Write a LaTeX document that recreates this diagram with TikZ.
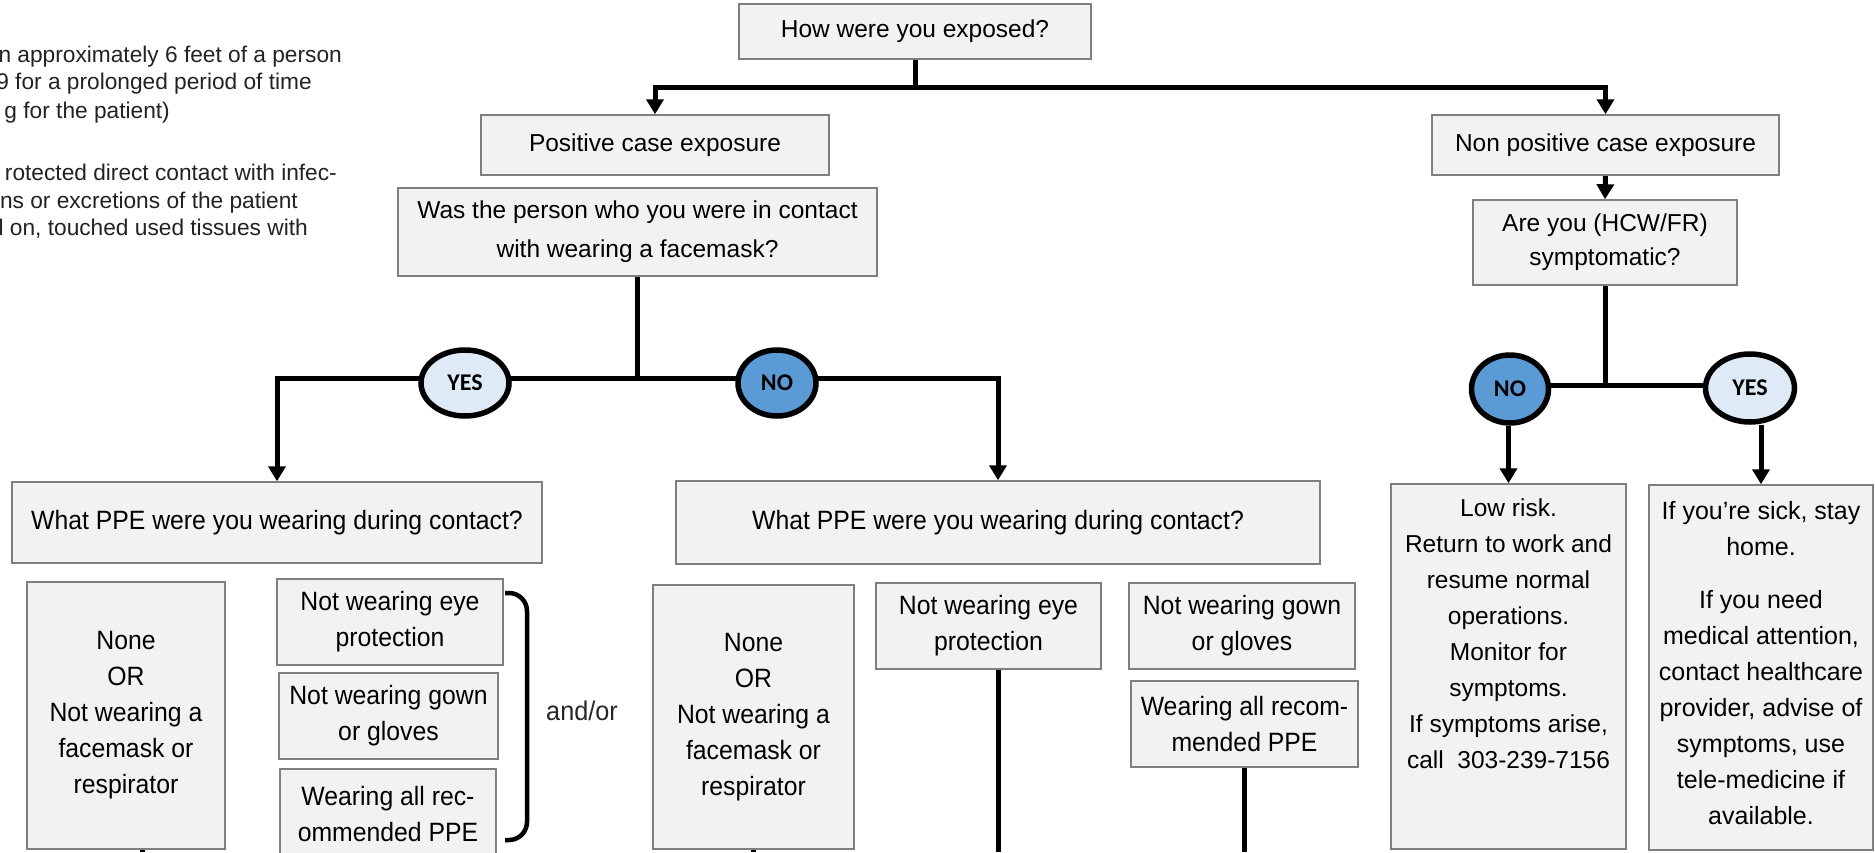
\documentclass[tikz,border=0pt]{standalone}
\usepackage{fontspec}
\setmainfont{Liberation Sans}
\newfontfamily\condfont{Liberation Sans}[FakeStretch=0.935]
\newfontfamily\labfont{Carlito}
\usetikzlibrary{arrows.meta,shapes.geometric,backgrounds}
\definecolor{boxfill}{HTML}{F2F2F2}
\definecolor{boxline}{HTML}{7F7F7F}
\definecolor{yesfill}{HTML}{DEEBF7}
\definecolor{nofill}{HTML}{5B9BD5}
\definecolor{smalltext}{HTML}{222222}
\begin{document}
\begin{tikzpicture}[x=1pt,y=-1pt,
  box/.style={draw=boxline, fill=boxfill, line width=1.5pt, inner sep=0pt, align=center, text=black},
  hfont/.style={font=\fontsize{24.5}{39}\selectfont},
  hfontb/.style={font=\fontsize{24.5}{34}\selectfont},
  cfont/.style={font=\condfont\fontsize{26.5}{36}\selectfont},
  rfont/.style={font=\fontsize{24.5}{36}\selectfont},
  sfont/.style={font=\fontsize{25}{36}\selectfont},
  conn/.style={line width=5pt},
  arr/.style={conn, -{Triangle[width=17pt,length=15pt]}},
  dec/.style={ellipse, draw=black, line width=5.5pt, inner sep=0pt, font=\labfont\bfseries\fontsize{24}{24}\selectfont},
  yesdec/.style={dec, fill=yesfill},
  nodec/.style={dec, fill=nofill},
  note/.style={anchor=base east, inner sep=0pt, text=smalltext, font=\fontsize{22.7}{28}\selectfont},
  txt/.style={inner sep=0pt, align=center}
]
\useasboundingbox (0,0) rectangle (1875,852);
\clip (0,0) rectangle (1875,852);

% partial explanatory text (cut at left edge)
\node[note] (t1) at (342,62) {n approximately 6 feet of a person};
\node[note] (t2) at (312,89) {9 for a prolonged period of time};
\node[note] (t3) at (170,118) {g for the patient)};
\node[note] (t4) at (337,180) {rotected direct contact with infec-};
\node[note] (t5) at (298,208) {ns or excretions of the patient};
\node[note] (t6) at (308,235) {l on, touched used tissues with};

% top level
\node[box, hfont, minimum width=352pt, minimum height=55pt] (top) at (915,31.5) {How were you exposed?};
\node[box, hfont, minimum width=348pt, minimum height=60pt] (pos) at (655,145) {Positive case exposure};
\node[box, hfont, minimum width=347pt, minimum height=60pt] (nonpos) at (1605.5,145) {Non positive case exposure};
\node[box, hfont, minimum width=479pt, minimum height=88pt] (was) at (637.5,232) {Was the person who you were in contact\\with wearing a facemask?};
\node[box, hfontb, minimum width=264pt, minimum height=85pt] (areyou) at (1605,242.5) {Are you (HCW/FR)\\symptomatic?};

% decisions
\node[yesdec, minimum width=88pt, minimum height=66pt] (yesL) at (465,383) {YES};
\node[nodec, minimum width=78pt, minimum height=66pt] (noL) at (777,383) {NO};
\node[nodec, minimum width=77pt, minimum height=68pt] (noR) at (1510,389) {NO};
\node[yesdec, minimum width=89pt, minimum height=68pt] (yesR) at (1750,388) {YES};

% PPE questions
\node[box, cfont, minimum width=530pt, minimum height=81pt] (ppeL) at (277,522.5) {What PPE were you wearing during contact?};
\node[box, cfont, minimum width=644pt, minimum height=83pt] (ppeM) at (998,522.5) {What PPE were you wearing during contact?};

% left answers
\node[box, cfont, minimum width=198pt, minimum height=267pt] (noneL) at (126,715.5) {None\\OR\\Not wearing a\\facemask or\\respirator};
\node[box, cfont, minimum width=226pt, minimum height=86pt] (eyeL) at (390,622) {Not wearing eye\\protection};
\node[box, cfont, minimum width=219pt, minimum height=86pt] (gownL) at (388.5,716) {Not wearing gown\\or gloves};
\node[box, minimum width=216pt, minimum height=131pt] (allL) at (388,834.5) {};
\node[txt, cfont, anchor=north] (allLt) at (388,786) {Wearing all rec-\\ommended PPE};
\draw[line width=4.5pt, rounded corners=18pt] (505,593) -- (527,593) -- (527,840) -- (505,840);
\node[txt, font=\condfont\fontsize{27}{32}\selectfont, text=black!85] (andor) at (582,711) {and/or};

% middle answers
\node[box, cfont, minimum width=201pt, minimum height=264pt] (noneM) at (753.5,717) {None\\OR\\Not wearing a\\facemask or\\respirator};
\node[box, cfont, minimum width=225pt, minimum height=86pt] (eyeM) at (988.5,626) {Not wearing eye\\protection};
\node[box, cfont, minimum width=226pt, minimum height=86pt] (gownM) at (1242,626) {Not wearing gown\\or gloves};
\node[box, cfont, minimum width=227pt, minimum height=86pt] (allM) at (1244.5,724) {Wearing all recom-\\mended PPE};

% right outcomes
\node[box, minimum width=235pt, minimum height=365pt] (lowrisk) at (1508.5,666.5) {};
\node[txt, rfont, anchor=north] (lowt) at (1508.5,499) {Low risk.\\Return to work and\\resume normal\\operations.\\Monitor for\\symptoms.\\If symptoms arise,\\call~~303-239-7156};
\node[box, minimum width=224pt, minimum height=365pt] (sick) at (1761,667.5) {};
\node[txt, sfont, anchor=north] (sickt) at (1761,501) {If you’re sick, stay\\home.\\[17pt]If you need\\medical attention,\\contact healthcare\\provider, advise of\\symptoms, use\\tele-medicine if\\available.};

% junction coordinates and free ends
\coordinate (tj) at (915,87);
\coordinate (wj) at (637.5,378);
\coordinate (rj) at (1605,385);
\coordinate (endNL) at (142,852);
\coordinate (endNM) at (753.5,852);
\coordinate (endEM) at (998,852);
\coordinate (endAM) at (1244,852);

\begin{scope}[on background layer]
  \draw[conn, {Triangle[width=17pt,length=15pt]}-{Triangle[width=17pt,length=15pt]}] (pos.north) |- (tj) -| (nonpos.north);
  \draw[conn] (top.south) -- (tj);
  \draw[arr] (nonpos.south) -- (areyou.north);
  \draw[conn] (was.south) -- (wj);
  \draw[arr] (wj) -| (ppeL.north);
  \draw[arr] (wj) -| (ppeM.north);
  \draw[conn] (areyou.south) -- (rj);
  \draw[conn] (noR.center |- rj) -- (yesR.center |- rj);
  \draw[arr] (noR.south -| lowrisk.north) -- (lowrisk.north);
  \draw[arr] (yesR.south -| sick.north) -- (sick.north);
  \draw[conn] (noneL.south -| endNL) -- (endNL);
  \draw[conn] (noneM.south) -- (endNM);
  \draw[conn] (eyeM.south -| endEM) -- (endEM);
  \draw[conn] (allM.south -| endAM) -- (endAM);
\end{scope}
\end{tikzpicture}
\end{document}
